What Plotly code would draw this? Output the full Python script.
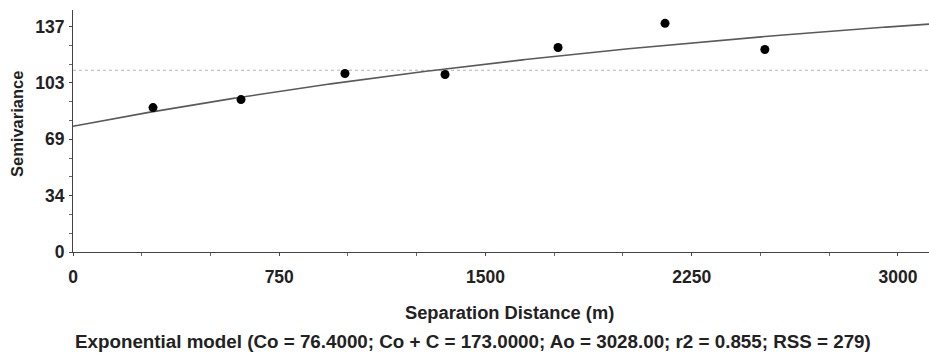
import numpy as np
import plotly.graph_objects as go

lag_distance = [291, 611, 989, 1353, 1764, 2153, 2516]
semivariance = [87.7, 92.6, 108.4, 107.8, 124.2, 138.9, 123.0]

# Exponential model parameters (from caption)
Co = 76.4
Co_plus_C = 173.0
Ao = 3028.0
sample_variance = 110.4

y_tickvals = [0, 34.25, 68.5, 102.75, 137]
y_ticktext = ["0", "34", "69", "103", "137"]
x_tickvals = [0, 750, 1500, 2250, 3000]
x_ticktext = ["0", "750", "1500", "2250", "3000"]

x_max = 3113
y_max = 147

h = np.linspace(0, x_max, 300)
model = Co + (Co_plus_C - Co) * (1 - np.exp(-h / Ao))

FAM = "Liberation Sans, Arial, sans-serif"

fig = go.Figure()
fig.add_trace(go.Scatter(x=[0, x_max], y=[sample_variance, sample_variance], mode="lines",
                         line=dict(color="#b5b5b5", width=1.2, dash="dot"), hoverinfo="skip"))
fig.add_trace(go.Scatter(x=h, y=model, mode="lines",
                         line=dict(color="#5a5a5a", width=1.6), hoverinfo="skip"))
fig.add_trace(go.Scatter(x=lag_distance, y=semivariance, mode="markers",
                         marker=dict(color="black", size=9)))

tick_font = dict(family=FAM, size=17.5, color="#222", weight="bold")

ML, MR, MT, MB = 73, 0, 10, 102
W, H = 929, 354

fig.update_layout(
    width=W, height=H,
    margin=dict(l=ML, r=MR, t=MT, b=MB, autoexpand=False),
    plot_bgcolor="white", paper_bgcolor="white",
    showlegend=False,
    xaxis=dict(range=[0, x_max], tickvals=x_tickvals, ticktext=x_ticktext,
               showgrid=False, zeroline=False, showline=True, linecolor="#444", linewidth=1,
               ticks="outside", ticklen=3, tickcolor="#444", tickfont=tick_font,
               ticklabelstandoff=6, automargin=False,
               minor=dict(dtick=250, tick0=0, ticks="outside", ticklen=3, tickcolor="#666")),
    yaxis=dict(range=[0, y_max], tickvals=y_tickvals, ticktext=y_ticktext,
               showgrid=False, zeroline=False, showline=True, linecolor="#444", linewidth=1,
               ticks="outside", ticklen=3, tickcolor="#444", tickfont=tick_font,
               ticklabelstandoff=1, automargin=False,
               minor=dict(dtick=34.25 / 3, tick0=0, ticks="outside", ticklen=3, tickcolor="#666")),
)

pw, ph = W - ML - MR, H - MT - MB
def px_to_paper(px, py):
    return (px - ML) / pw, (H - MB - py) / ph

texts = [
    ("Separation Distance (m)", 509, 312, 0, 18.3),
    ("Semivariance", 17, 124, -90, 16.5),
    ("Exponential model (Co = 76.4000; Co + C = 173.0000; Ao = 3028.00; r2 = 0.855; RSS = 279)", 473, 341, 0, 18.8),
]
for txt, px, py, ang, sz in texts:
    xx, yy = px_to_paper(px, py)
    fig.add_annotation(text=txt, x=xx, y=yy, xref="paper", yref="paper", textangle=ang,
                       showarrow=False, xanchor="center", yanchor="middle",
                       font=dict(family=FAM, size=sz, color="#222", weight="bold"))

fig.write_html("out.html", config={"displayModeBar": False},
               post_script="document.body.style.margin='0';document.body.style.overflow='hidden';")
